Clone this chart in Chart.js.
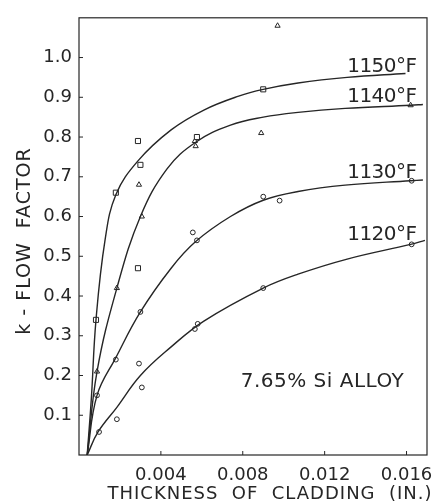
<!DOCTYPE html>
<html>
<head>
<meta charset="utf-8">
<script src="https://cdn.jsdelivr.net/npm/chart.js@4/dist/chart.umd.min.js"></script>
<style>
  html, body { margin: 0; padding: 0; background: #fff; }
  #wrap { width: 432px; height: 504px; }
</style>
</head>
<body>
<div id="wrap"><canvas id="flow-chart" width="432" height="504"></canvas></div>
<script>
// measured points (x = thickness in inches, y = k)
const sq1150X = [0.00083, 0.0018, 0.00288, 0.0030, 0.00288, 0.00576, 0.0090];
const sq1150Y = [0.34, 0.66, 0.79, 0.73, 0.47, 0.80, 0.92];

const tri1140X = [0.00088, 0.00185, 0.00293, 0.00307, 0.00566, 0.0057, 0.0089, 0.0097, 0.0162];
const tri1140Y = [0.21, 0.42, 0.68, 0.60, 0.79, 0.777, 0.81, 1.08, 0.88];

const circ1130X = [0.00088, 0.0018, 0.0030, 0.00556, 0.00576, 0.0090, 0.0098, 0.01625];
const circ1130Y = [0.15, 0.24, 0.36, 0.56, 0.54, 0.65, 0.64, 0.69];

const circ1120X = [0.00098, 0.00185, 0.00293, 0.00307, 0.00566, 0.0058, 0.0090, 0.01625];
const circ1120Y = [0.058, 0.09, 0.23, 0.17, 0.317, 0.33, 0.42, 0.53];

// faired curves
const curve1150X = [0.0004, 0.0006, 0.00083, 0.00127, 0.0018, 0.00288, 0.0045, 0.0061, 0.0078, 0.009, 0.0107, 0.0131, 0.01595];
const curve1150Y = [0, 0.14, 0.34, 0.54, 0.655, 0.74, 0.818, 0.868, 0.903, 0.92, 0.936, 0.95, 0.96];

const curve1140X = [0.0004, 0.00088, 0.00185, 0.003, 0.0043, 0.0057, 0.0074, 0.009, 0.0107, 0.013, 0.0162, 0.0168];
const curve1140Y = [0, 0.21, 0.42, 0.60, 0.72, 0.787, 0.83, 0.85, 0.862, 0.872, 0.88, 0.882];

const curve1130X = [0.0004, 0.00088, 0.0018, 0.003, 0.0045, 0.0057, 0.0074, 0.009, 0.0107, 0.013, 0.0162, 0.0168];
const curve1130Y = [0, 0.15, 0.245, 0.36, 0.47, 0.537, 0.60, 0.641, 0.663, 0.679, 0.69, 0.692];

const curve1120X = [0.0004, 0.00093, 0.00185, 0.003, 0.0045, 0.0061, 0.009, 0.0107, 0.0131, 0.0162, 0.0169];
const curve1120Y = [0, 0.058, 0.12, 0.20, 0.272, 0.337, 0.42, 0.455, 0.493, 0.53, 0.54];

const xTicks = [0.004, 0.008, 0.012, 0.016];
const yTicks = [0.1, 0.2, 0.3, 0.4, 0.5, 0.6, 0.7, 0.8, 0.9, 1.0];

// curve labels: [text, x, y baseline]
const curveLabels = [
  ['1150°F', 0.0131, 0.963],
  ['1140°F', 0.0131, 0.889],
  ['1130°F', 0.0131, 0.697],
  ['1120°F', 0.0131, 0.542]
];
const alloyNote = ['7.65% Si ALLOY', 0.0079, 0.172];

const INK = '#262626';

function pts(xs, ys) {
  return xs.map((x, i) => ({ x: x, y: ys[i] }));
}

function markerSet(xs, ys, style, r) {
  return {
    type: 'scatter',
    data: pts(xs, ys),
    pointStyle: style,
    pointRadius: r,
    pointBackgroundColor: '#fff',
    pointBorderColor: INK,
    pointBorderWidth: 1,
    showLine: false
  };
}

function curveSet(xs, ys) {
  return {
    type: 'line',
    data: pts(xs, ys),
    borderColor: INK,
    borderWidth: 1.4,
    pointRadius: 0,
    fill: false,
    tension: 0.4
  };
}

const decorPlugin = {
  id: 'decor',
  afterDraw(chart) {
    const ctx = chart.ctx;
    const a = chart.chartArea;
    const xs = chart.scales.x;
    const ys = chart.scales.y;
    ctx.save();
    ctx.strokeStyle = INK;
    ctx.lineWidth = 1.2;
    ctx.strokeRect(a.left, a.top, a.right - a.left, a.bottom - a.top);

    // short inward ticks
    ctx.lineWidth = 1;
    ctx.beginPath();
    xTicks.forEach(v => {
      const px = xs.getPixelForValue(v);
      ctx.moveTo(px, a.bottom);
      ctx.lineTo(px, a.bottom - 4);
    });
    yTicks.forEach(v => {
      const py = ys.getPixelForValue(v);
      ctx.moveTo(a.left, py);
      ctx.lineTo(a.left + 4, py);
    });
    ctx.stroke();

    ctx.fillStyle = INK;
    ctx.textBaseline = 'alphabetic';
    ctx.textAlign = 'left';
    ctx.font = '20px "DejaVu Sans"';
    ctx.letterSpacing = '-0.5px';
    curveLabels.forEach(l => {
      ctx.fillText(l[0], xs.getPixelForValue(l[1]), ys.getPixelForValue(l[2]));
    });
    ctx.font = '20px "DejaVu Sans"';
    ctx.letterSpacing = '0.5px';
    ctx.fillText(alloyNote[0], xs.getPixelForValue(alloyNote[1]), ys.getPixelForValue(alloyNote[2]));

    // axis titles
    ctx.textAlign = 'center';
    ctx.textBaseline = 'middle';
    ctx.font = '18px "DejaVu Sans"';
    ctx.letterSpacing = '1px';
    ctx.fillText('THICKNESS  OF  CLADDING  (IN.)', 270, 494);
    ctx.translate(25, 241);
    ctx.rotate(-Math.PI / 2);
    ctx.font = '19px "DejaVu Sans"';
    ctx.letterSpacing = '1px';
    ctx.fillText('k - FLOW  FACTOR', 0, 0);
    ctx.restore();
  }
};

const ctx = document.getElementById('flow-chart').getContext('2d');
new Chart(ctx, {
  data: {
    datasets: [
      curveSet(curve1150X, curve1150Y),
      curveSet(curve1140X, curve1140Y),
      curveSet(curve1130X, curve1130Y),
      curveSet(curve1120X, curve1120Y),
      markerSet(sq1150X, sq1150Y, 'rect', 3.6),
      markerSet(tri1140X, tri1140Y, 'triangle', 3),
      markerSet(circ1130X, circ1130Y, 'circle', 2.4),
      markerSet(circ1120X, circ1120Y, 'circle', 2.4)
    ]
  },
  options: {
    responsive: false,
    animation: false,
    layout: { padding: { top: 15, right: 2, left: 0, bottom: 0 } },
    plugins: {
      legend: { display: false },
      tooltip: { enabled: false }
    },
    scales: {
      x: {
        type: 'linear',
        min: 0,
        max: 0.017,
        afterBuildTicks: scale => { scale.ticks = xTicks.map(v => ({ value: v })); },
        afterFit: scale => {
          scale.height = 49;
          scale.paddingLeft = 0;
          scale.paddingRight = 0;
        },
        grid: { display: false, drawTicks: false },
        border: { display: false },
        ticks: {
          color: INK,
          font: { family: 'DejaVu Sans', size: 18 },
          padding: 10,
          maxRotation: 0,
          callback: v => v.toFixed(3)
        }
      },
      y: {
        type: 'linear',
        min: 0,
        max: 1.1,
        afterBuildTicks: scale => { scale.ticks = yTicks.map(v => ({ value: v })); },
        afterFit: scale => { scale.width = 79; },
        grid: { display: false, drawTicks: false },
        border: { display: false },
        ticks: {
          color: INK,
          font: { family: 'DejaVu Sans', size: 18 },
          padding: 7,
          callback: v => v.toFixed(1)
        }
      }
    }
  },
  plugins: [decorPlugin]
});
</script>
</body>
</html>
